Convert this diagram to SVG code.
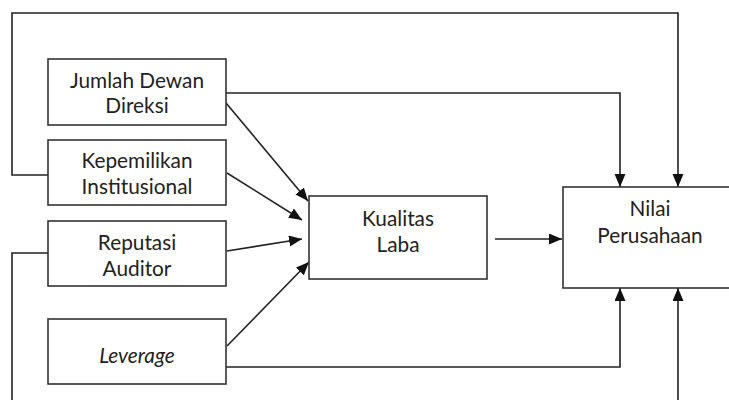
<svg xmlns="http://www.w3.org/2000/svg" width="729" height="400" viewBox="0 0 729 400">
<defs>
<style>
.box{fill:#fff;stroke:#333;stroke-width:1.6}
.ln{fill:none;stroke:#222;stroke-width:1.6}
.t{font-family:Lato,"Open Sans",sans-serif;font-size:20.8px;fill:#222;text-anchor:middle}
</style>
<marker id="ah" markerUnits="userSpaceOnUse" markerWidth="14" markerHeight="12" refX="13" refY="5.5" orient="auto" viewBox="0 0 14 12">
<path d="M0,0 L13,5.5 L0,11 z" fill="#111"/>
</marker>
</defs>
<rect width="729" height="400" fill="#fff"/>
<g id="connectors">
<path class="ln" d="M48,175 H12 V13 H678 V187" marker-end="url(#ah)"/>
<path class="ln" d="M226,93 H620 V187" marker-end="url(#ah)"/>
<path class="ln" d="M48,253 H12 V412 H678 V288" marker-end="url(#ah)"/>
<path class="ln" d="M226,367 H620 V288" marker-end="url(#ah)"/>
<path class="ln" d="M226,103 L308,201" marker-end="url(#ah)"/>
<path class="ln" d="M227,173 L302,220" marker-end="url(#ah)"/>
<path class="ln" d="M227,251 L302,239" marker-end="url(#ah)"/>
<path class="ln" d="M227,346 L309,262" marker-end="url(#ah)"/>
<path class="ln" d="M495,239 H562" marker-end="url(#ah)"/>
</g>
<g id="jumlah">
<rect class="box" x="48" y="59" width="178" height="66"/>
<text class="t" x="137" y="88">Jumlah Dewan</text>
<text class="t" x="137" y="113">Direksi</text>
</g>
<g id="kepemilikan">
<rect class="box" x="48" y="140" width="178" height="65"/>
<text class="t" x="137" y="168">Kepemilikan</text>
<text class="t" x="137" y="194">Institusional</text>
</g>
<g id="reputasi">
<rect class="box" x="48" y="221" width="178" height="65"/>
<text class="t" x="137" y="250">Reputasi</text>
<text class="t" x="137" y="276">Auditor</text>
</g>
<g id="leverage">
<rect class="box" x="48" y="319" width="178" height="65"/>
<text class="t" x="137" y="363" font-style="italic">Leverage</text>
</g>
<g id="kualitas">
<rect class="box" x="309" y="196" width="178" height="83"/>
<text class="t" x="398" y="226">Kualitas</text>
<text class="t" x="398" y="252">Laba</text>
</g>
<g id="nilai">
<rect class="box" x="563" y="187" width="180" height="101"/>
<text class="t" x="650" y="216">Nilai</text>
<text class="t" x="650" y="243">Perusahaan</text>
</g>
</svg>
